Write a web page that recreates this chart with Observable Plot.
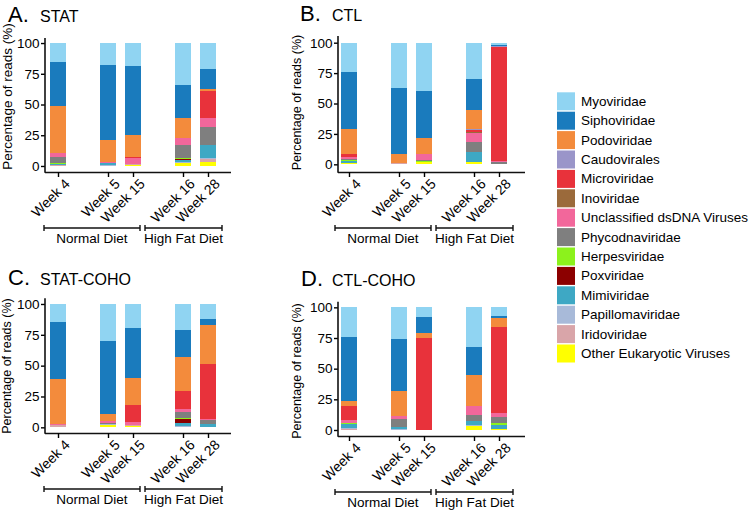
<!DOCTYPE html>
<html><head><meta charset="utf-8">
<script src="https://cdn.jsdelivr.net/npm/d3@7"></script>
<script src="https://cdn.jsdelivr.net/npm/@observablehq/plot@0.6"></script>
<style>
body{margin:0;background:#fff;font-family:"Liberation Sans",Arial,sans-serif;}
#root{position:relative;width:750px;height:510px;overflow:hidden;background:#fff;}
.panel{position:absolute;width:270px;height:220px;}
.panel svg{display:block;overflow:visible;}
#overlay{position:absolute;left:0;top:0;pointer-events:none;}
</style></head><body><div id="root"></div>
<script>
// ---- data ----
const families = ["Myoviridae","Siphoviridae","Podoviridae","Caudovirales","Microviridae","Inoviridae",
  "Unclassified dsDNA Viruses","Phycodnaviridae","Herpesviridae","Poxviridae","Mimiviridae",
  "Papillomaviridae","Iridoviridae","Other Eukaryotic Viruses"];
const legendLabels = ["Myoviridae","Siphoviridae","Podoviridae","Caudovirales","Microviridae","Inoviridae",
  "Unclassified dsDNA Viruses","Phycodnaviridae","Herpesviridae","Poxviridae","Mimiviridae",
  "Papillomaviridae","Iridoviridae","Other Eukaryotic Viruses"];
const colors = ["#90d4f2","#1a7bbd","#f38b3c","#9a95c9","#e8323b","#9b6a3b","#f2679b","#7f7f7f",
  "#8cf21c","#8c0000","#3ea8c4","#a8bad9","#d9a5a9","#ffff00"];
const weeks = ["Week 4","Week 5","Week 15","Week 16","Week 28"];
const diets = ["Normal Diet","High Fat Diet"];
const yTicks = [0,25,50,75,100];
const panelLetters = ["A.","B.","C.","D."];
const panelNames = ["STAT","CTL","STAT-COHO","CTL-COHO"];
// rows = weeks, columns = families (legend order), percent of reads
const stat = [
  [15.7,35.5,38.0,0,0,0,3.1,5.0,0.8,0,1.2,0,0.7,0],
  [18.0,61.0,17.5,0,0,0,1.3,0,0,0,1.2,1.0,0,0],
  [18.7,56.1,17.6,0,1.5,0,4.5,0,0,0,0,0,0.6,1.0],
  [34.1,27.1,15.8,0,0,0,6.2,10.6,0.6,0.8,1.5,0.8,0.3,2.2],
  [21.1,16.6,1.6,0,21.4,0,7.6,14.6,0,0,10.4,0.8,2.4,3.5]
];
const ctl = [
  [23.8,47.4,20.3,0,2.5,0,1.3,1.5,0.7,0,1.2,0.6,0,0.7],
  [37.0,54.8,7.4,0,0,0,0,0,0,0,0,0,0.8,0],
  [39.5,38.6,13.0,0.7,0,0,4.5,1.2,0.7,0,0,0,0,1.8],
  [29.9,25.4,15.6,1.0,1.5,0.5,7.5,8.7,0,0,7.8,0.4,0,1.7],
  [1.8,0.8,0.4,0.5,93.8,0,0.5,2.2,0,0,0,0,0,0]
];
const statCoho = [
  [14.8,46.3,36.2,0,0,0,1.2,0,0,0,0,0,1.5,0],
  [30.0,59.2,5.7,0,0,0,1.5,1.2,0,0,0,0.6,0,1.8],
  [19.7,40.6,21.6,0,14.1,0,2.5,0,0,0,0,0,0.5,1.0],
  [21.1,21.6,27.6,0,15.1,0,1.9,5.5,0.5,3.3,2.5,0.9,0,0],
  [12.2,4.8,31.7,0,44.8,0,0.5,3.0,0,0,2.5,0.5,0,0]
];
const ctlCoho = [
  [24.0,52.1,4.1,0,11.7,0,2.1,0.6,0.5,0,3.2,1.0,0.7,0],
  [26.1,42.4,20.1,0,0,0,2.7,6.0,0,0,1.8,0.9,0,0],
  [8.2,12.5,4.1,0,75.2,0,0,0,0,0,0,0,0,0],
  [32.6,22.3,25.3,0,0,0,7.8,4.4,0,0,3.5,0.8,0,3.3],
  [7.2,1.8,7.3,0,70.1,0,3.3,4.9,1.2,0,3.2,0,0.5,0.5]
];
const panelValues = [stat, ctl, statCoho, ctlCoho];

// ---- layout ----
const layouts = [
  {left:0,   top:30,  ml:45, mr:39, mt:8,    mb:78, yd:[-4.9,104.1], align:0.23, po:0.25, tx:8,   nx:40,  ty:22,  labX:7.5, labY:66.5, labSize:13.5},
  {left:270, top:30,  ml:68, mr:15, mt:6,    mb:78, yd:[-6.3,105.5], align:0.14, po:0.27, tx:300, nx:332, ty:21,  labX:27,  labY:72.5, labSize:12.5},
  {left:0,   top:290, ml:45, mr:39, mt:8.3,  mb:77, yd:[-4.6,104.6], align:0.23, po:0.25, tx:8,   nx:40,  ty:285, labX:7,   labY:76,   labSize:12.5},
  {left:270, top:290, ml:68, mr:15, mt:11.7, mb:74, yd:[-4.9,104.6], align:0.14, po:0.27, tx:301, nx:332, ty:286, labX:27,  labY:81,   labSize:12.5}
];
const xSlots = ["Week 4","_a","Week 5","Week 15","_b","Week 16","Week 28"];
const stackOrder = families.slice().reverse();
const font = "Liberation Sans, Arial, Helvetica, sans-serif";

const root = document.getElementById("root");

layouts.forEach((L, pi) => {
  const rows = [];
  weeks.forEach((w, i) => families.forEach((f, j) => rows.push({week: w, family: f, value: panelValues[pi][i][j]})));
  const chart = Plot.plot({
    width: 270, height: 220,
    marginLeft: L.ml, marginRight: L.mr, marginTop: L.mt, marginBottom: L.mb,
    style: {fontFamily: font, fontSize: "13px", color: "#000", background: "transparent", overflow: "visible"},
    x: {type: "band", domain: xSlots, paddingInner: 0.346, paddingOuter: L.po, align: L.align, label: null},
    y: {domain: L.yd, label: null},
    color: {type: "ordinal", domain: families, range: colors},
    marks: [
      Plot.barY(rows, {x: "week", y: "value", fill: "family", order: stackOrder, shapeRendering: "crispEdges"}),
      Plot.ruleY([L.yd[0]], {stroke: "#111", strokeWidth: 1.6}),
      Plot.axisY(yTicks, {tickSize: 4, tickPadding: 2, fontSize: 13.5, strokeWidth: 1.4, label: null}),
      Plot.axisX(weeks, {tickSize: 5, tickPadding: 2, tickRotate: -45, fontSize: 14, strokeWidth: 1.4, label: null}),
    ]
  });
  const div = document.createElement("div");
  div.className = "panel";
  div.style.left = L.left + "px";
  div.style.top = L.top + "px";
  div.appendChild(chart);
  root.appendChild(div);

  const svg = d3.select(chart);
  // shift rotated tick labels so their top-right corner meets the tick
  svg.selectAll("g[aria-label='x-axis tick label']").attr("transform", function() {
    const t = this.getAttribute("transform") || "";
    return t + " translate(9,2)";
  });
  const sy = chart.scale("y");
  const sx = chart.scale("x");
  const bw = sx.bandwidth;
  svg.append("line").attr("x1", L.ml).attr("x2", L.ml)
    .attr("y1", sy.apply(L.yd[1])).attr("y2", sy.apply(L.yd[0]) + 0.8)
    .attr("stroke", "#111").attr("stroke-width", 1.6);
  svg.append("text").text("Percentage of reads (%)")
    .attr("transform", `translate(${L.labX},${L.labY}) rotate(-90)`)
    .attr("text-anchor", "middle").attr("dominant-baseline", "central")
    .attr("font-size", L.labSize).attr("font-family", font).attr("fill", "#000");
  const by = sy.apply(L.yd[0]) + 56;
  const spans = [
    [sx.apply("Week 4") - 6, sx.apply("Week 15") + 15],
    [sx.apply("Week 16") - 30, sx.apply("Week 28") + bw + 6]
  ];
  spans.forEach(([a, b], k) => {
    const g = svg.append("g").attr("stroke", "#111").attr("stroke-width", 1.4);
    g.append("line").attr("x1", a).attr("x2", b).attr("y1", by).attr("y2", by);
    g.append("line").attr("x1", a).attr("x2", a).attr("y1", by - 3).attr("y2", by + 3);
    g.append("line").attr("x1", b).attr("x2", b).attr("y1", by - 3).attr("y2", by + 3);
    svg.append("text").text(diets[k]).attr("x", (a + b) / 2).attr("y", by + 15)
      .attr("text-anchor", "middle").attr("font-size", 13.5).attr("font-family", font).attr("fill", "#000");
  });
});

const ov = d3.select(root).append("svg").attr("id", "overlay").attr("width", 750).attr("height", 510);
layouts.forEach((L, pi) => {
  ov.append("text").attr("x", L.tx).attr("y", L.ty).attr("font-family", font).attr("fill", "#000")
    .attr("font-size", 22).text(panelLetters[pi]);
  ov.append("text").attr("x", L.nx).attr("y", L.ty).attr("font-family", font).attr("fill", "#000")
    .attr("font-size", 16).text(panelNames[pi]);
});
const lg = ov.append("g");
legendLabels.forEach((name, i) => {
  const y0 = 92.3 + i * 19.4;
  lg.append("rect").attr("x", 557).attr("y", y0).attr("width", 18).attr("height", 18).attr("fill", colors[i]);
  lg.append("text").attr("x", 581).attr("y", y0 + 9).attr("dominant-baseline", "central")
    .attr("font-size", 13.5).attr("font-family", font).attr("fill", "#000").text(name);
});
</script></body></html>
